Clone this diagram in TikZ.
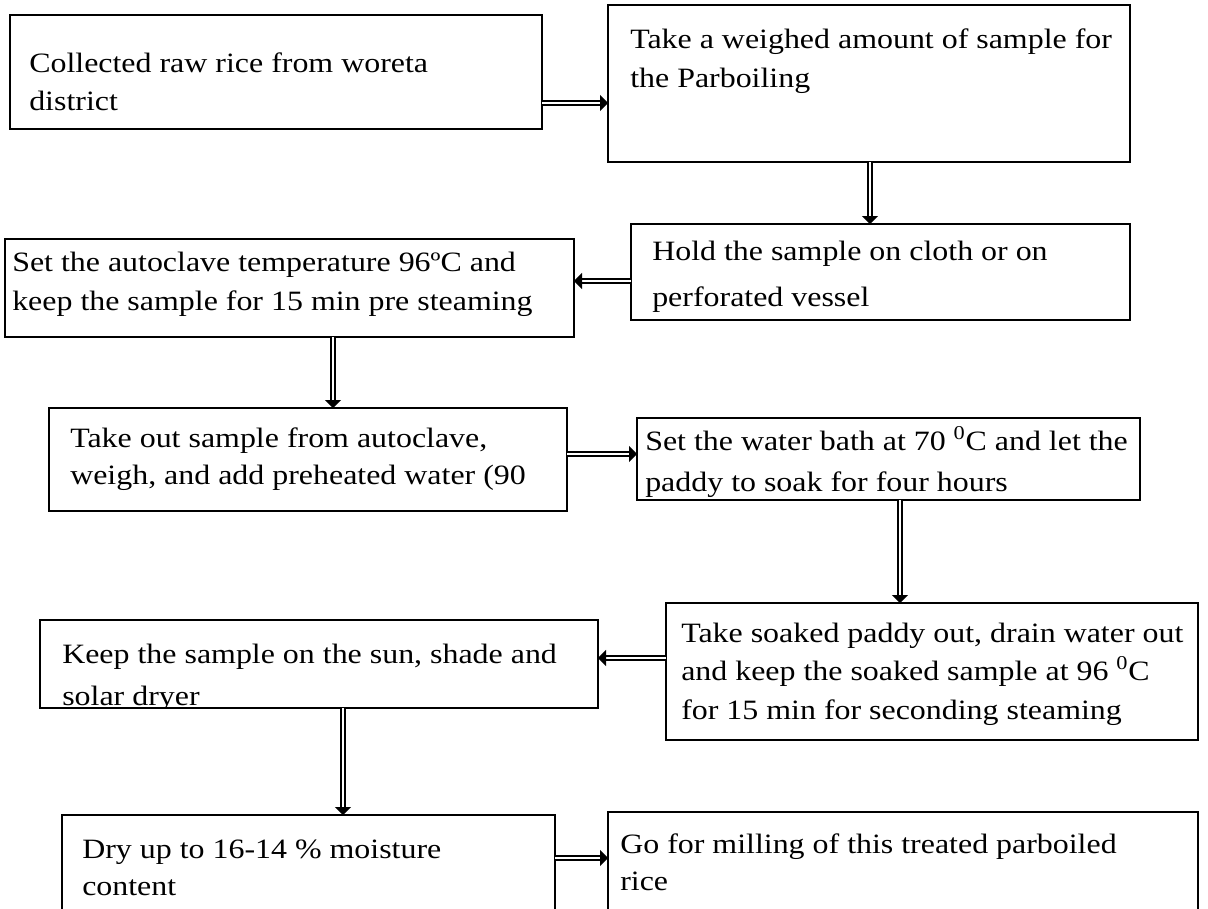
\documentclass[tikz,border=0pt]{standalone}
\usepackage{fontspec}
\usepackage{graphicx}
\setmainfont{Liberation Serif}
\usetikzlibrary{arrows.meta,fit}
\newcommand\sx[1]{\scalebox{1.14}[1]{#1}}
\begin{document}
\begin{tikzpicture}[x=0.75pt,y=-0.75pt,
 box/.style={draw, line width=1pt, inner sep=0pt, outer sep=0pt},
 txt/.style={anchor=base west, inner sep=0pt, font=\fontsize{21}{27}\selectfont},
 conn/.style={double, double distance=2.2pt, line width=1.1pt, -{Triangle[length=6pt,width=12pt]}}]
\useasboundingbox (0,0) rectangle (1208,908);
\clip (0,0) rectangle (1208,908);
% boxes
\node[box, fit={(10,15) (542,129)}] (b1) {};
\node[box, fit={(608,5) (1130,162)}] (b2) {};
\node[box, fit={(631,224) (1130,320)}] (b3) {};
\node[box, fit={(5,239) (574,337)}] (b4) {};
\node[box, fit={(49,408) (567,511)}] (b5) {};
\node[box, fit={(637,418) (1140,500)}] (b6) {};
\node[box, fit={(666,603) (1198,740)}] (b7) {};
\node[box, fit={(40,620) (598,708)}] (b8) {};
\node[box, fit={(62,815) (555,930)}] (b9) {};
\node[box, fit={(608,812) (1198,930)}] (b10) {};
% texts
\node[txt] (t1a) at (29,72) {\sx{Collected raw rice from woreta}};
\node[txt] (t1b) at (29,110) {\sx{district}};
\node[txt] (t2a) at (630,48) {\sx{Take a weighed amount of sample for}};
\node[txt] (t2b) at (630,87) {\sx{the Parboiling}};
\node[txt] (t3a) at (652,260) {\sx{Hold the sample on cloth or on}};
\node[txt] (t3b) at (652,306) {\sx{perforated vessel}};
\begin{scope}
\clip (5,239) rectangle (574,337);
\node[txt] (t4a) at (12,271) {\sx{Set the autoclave temperature 96ºC and}};
\node[txt] (t4b) at (12,310) {\sx{keep the sample for 15 min pre steaming}};
\end{scope}
\begin{scope}
\clip (49,408) rectangle (567,511);
\node[txt] (t5a) at (70,447) {\sx{Take out sample from autoclave,}};
\node[txt] (t5b) at (70,484) {\sx{weigh, and add preheated water (90}};
\end{scope}
\node[txt] (t6a) at (645,450) {\sx{Set the water bath at 70 \textsuperscript{0}C and let the}};
\node[txt] (t6b) at (645,491) {\sx{paddy to soak for four hours}};
\node[txt] (t7a) at (681,642) {\sx{Take soaked paddy out, drain water out}};
\node[txt] (t7b) at (681,680) {\sx{and keep the soaked sample at 96 \textsuperscript{0}C}};
\node[txt] (t7c) at (681,719) {\sx{for 15 min for seconding steaming}};
\begin{scope}
\clip (40,620) rectangle (598,708);
\node[txt] (t8a) at (62,663) {\sx{Keep the sample on the sun, shade and}};
\node[txt] (t8b) at (62,705) {\sx{solar dryer}};
\end{scope}
\node[txt] (t9a) at (82,858) {\sx{Dry up to 16-14 \% moisture}};
\node[txt] (t9b) at (82,895) {\sx{content}};
\node[txt] (t10a) at (620,853) {\sx{Go for milling of this treated parboiled}};
\node[txt] (t10b) at (620,890) {\sx{rice}};
% connectors
\draw[conn] (b1.east |- 0,103) -- (b2.west |- 0,103);
\draw[conn] (b2.south -| 870,0) -- (b3.north -| 870,0);
\draw[conn] (b3.west |- 0,281) -- (b4.east |- 0,281);
\draw[conn] (b4.south -| 333,0) -- (b5.north -| 333,0);
\draw[conn] (b5.east |- 0,454) -- (b6.west |- 0,454);
\draw[conn] (b6.south -| 900,0) -- (b7.north -| 900,0);
\draw[conn] (b7.west |- 0,658) -- (b8.east |- 0,658);
\draw[conn] (b8.south -| 343,0) -- (b9.north -| 343,0);
\draw[conn] (b9.east |- 0,858) -- (b10.west |- 0,858);
\end{tikzpicture}
\end{document}
